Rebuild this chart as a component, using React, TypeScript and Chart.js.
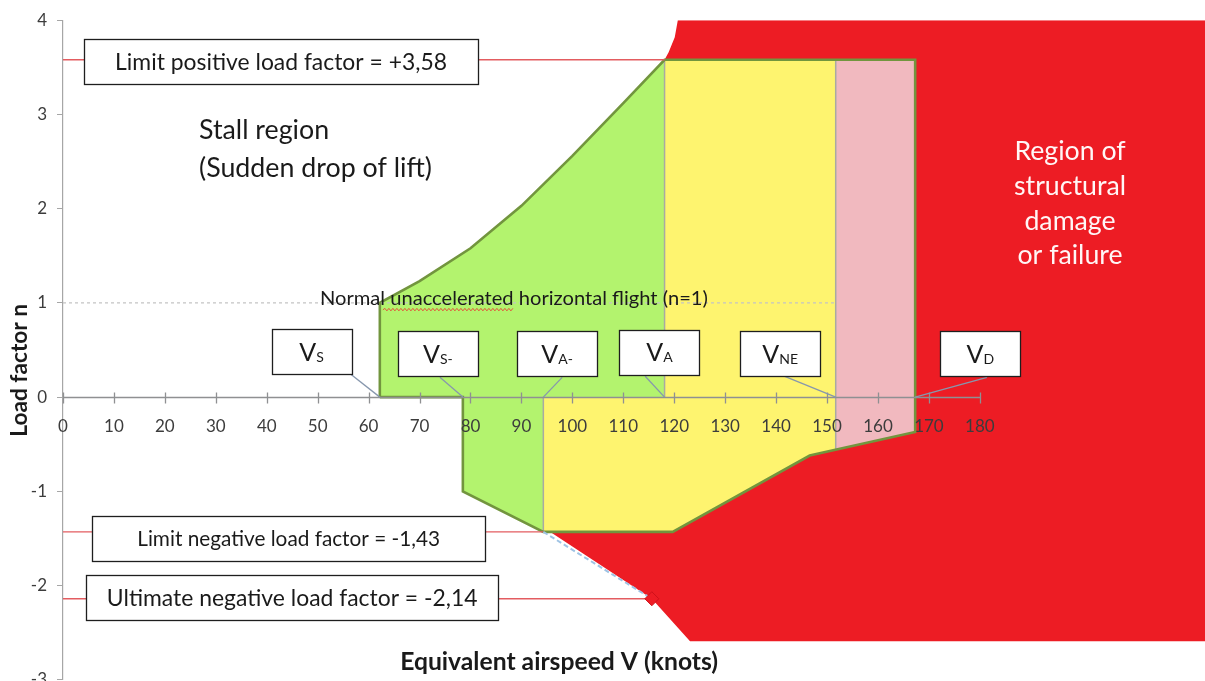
import React, { useEffect, useRef } from 'react';
import { Chart, registerables } from 'chart.js';

Chart.register(...registerables);

const FONT = 'Lato, "Open Sans", sans-serif';

// ---- tick labels ----
const xTicks = [0, 10, 20, 30, 40, 50, 60, 70, 80, 90, 100, 110, 120, 130, 140, 150, 160, 170, 180];
const yTicks = [-3, -2, -1, 0, 1, 2, 3, 4];

// ---- flight envelope (equivalent airspeed in knots, load factor n) ----
const envelopeSpeed = [62.2, 62.2, 70, 80, 90, 100, 110, 118.1, 167.3, 167.3, 146.6, 119.7, 94.3, 78.5, 78.5, 62.2];
const envelopeLoad = [0, 1.0, 1.23, 1.58, 2.03, 2.56, 3.12, 3.58, 3.58, -0.37, -0.62, -1.43, -1.43, -1.0, 0, 0];

// caution range (yellow)
const cautionSpeed = [94.3, 118.1, 118.1, 151.7, 151.7, 146.6, 119.7, 94.3];
const cautionLoad = [0, 0, 3.58, 3.58, -0.55, -0.62, -1.43, -1.43];

// never-exceed margin (pink)
const vneSpeed = [151.7, 167.3, 167.3, 151.7];
const vneLoad = [3.58, 3.58, -0.37, -0.55];

// region of structural damage or failure (red)
const damageSpeed = [118.1, 118.9, 120.1, 120.7, 230, 230, 123.1, 115.6, 95.6, 118.1];
const damageLoad = [3.58, 3.66, 3.82, 4.0, 4.0, -2.59, -2.59, -2.14, -1.43, 3.58];

// dividers between speed ranges
const vaDividerSpeed = [118.1, 118.1];
const vaDividerLoad = [0, 3.58];
const vaNegDividerSpeed = [94.3, 94.3];
const vaNegDividerLoad = [0, -1.43];
const vneDividerSpeed = [151.7, 151.7];
const vneDividerLoad = [-0.55, 3.58];

// reference load factor lines
const limitPositiveSpeed = [0, 118.1];
const limitPositiveLoad = [3.58, 3.58];
const limitNegativeSpeed = [0, 94.3];
const limitNegativeLoad = [-1.43, -1.43];
const ultimateNegativeSpeed = [0, 115.6];
const ultimateNegativeLoad = [-2.14, -2.14];
const normalFlightSpeed = [0, 151.7];
const normalFlightLoad = [1, 1];
const ultimateSlopeSpeed = [94.3, 115.6];
const ultimateSlopeLoad = [-1.43, -2.14];
const ultimatePointSpeed = [115.6];
const ultimatePointLoad = [-2.14];

// characteristic speeds
const speedLabelSubs = ['S', 'S-', 'A-', 'A', 'NE', 'D'];
const speedLabelSpeeds = [62.2, 78.5, 94.3, 118.1, 151.7, 167.3];

// ---- annotation layout (data coordinates) ----
const speedBoxes = [
  { cx: 48.8, cy: 0.479, ax: 56.5, ay: 0.242 },
  { cx: 73.6, cy: 0.458, ax: 74.0, ay: 0.21 },
  { cx: 97.0, cy: 0.458, ax: 98.0, ay: 0.21 },
  { cx: 117.1, cy: 0.474, ax: 114.3, ay: 0.221 },
  { cx: 140.8, cy: 0.458, ax: 141.7, ay: 0.221 },
  { cx: 180.1, cy: 0.458, ax: 181.4, ay: 0.21 },
];

const boxNotes = [
  { cx: 42.8, cy: 3.563, w: 394, h: 45, text: 'Limit positive load factor = +3,58', fit: 332 },
  { cx: 44.3, cy: -1.5, w: 393, h: 45, text: 'Limit negative load factor = -1,43', fit: 303 },
  { cx: 45.0, cy: -2.13, w: 412, h: 45, text: 'Ultimate negative load factor = -2,14', fit: 371 },
];

const RED = '#ed1c24';
const GREEN = '#b3f36e';
const YELLOW = '#fef46f';
const PINK = '#f1b9bf';
const OLIVE = '#72953e';
const DIVIDER = '#a9aaa2';
const REFLINE = '#e35c60';
const TEXT = '#1a1a1a';

function fitSize(ctx: CanvasRenderingContext2D, text: string, weight: string, target: number) {
  ctx.font = `${weight} 100px ${FONT}`;
  return (100 * target) / ctx.measureText(text).width;
}

const notesPlugin = {
  id: 'notes',
  afterDatasetsDraw(chart: any) {
    const ctx: CanvasRenderingContext2D = chart.ctx;
    const xs = chart.scales.x;
    const ys = chart.scales.y;
    const px = (v: number) => xs.getPixelForValue(v);
    const py = (n: number) => ys.getPixelForValue(n);
    ctx.save();

    // x axis line with crossing tick marks
    const y0 = Math.round(py(0)) + 0.5;
    ctx.strokeStyle = '#8f9092';
    ctx.lineWidth = 1.3;
    ctx.beginPath();
    ctx.moveTo(px(xTicks[0]), y0);
    ctx.lineTo(px(xTicks[xTicks.length - 1]), y0);
    xTicks.forEach((t) => {
      const X = Math.round(px(t)) + 0.5;
      ctx.moveTo(X, y0 - 5);
      ctx.lineTo(X, y0 + 6);
    });
    ctx.stroke();

    // connectors from speed labels
    ctx.strokeStyle = '#8797ad';
    ctx.lineWidth = 1.3;
    speedBoxes.forEach((b, i) => {
      ctx.beginPath();
      ctx.moveTo(px(b.ax), py(b.ay));
      ctx.lineTo(px(speedLabelSpeeds[i]), py(0));
      ctx.stroke();
    });

    const drawBox = (cx: number, cy: number, w: number, h: number) => {
      const l = Math.round(cx - w / 2) + 0.5;
      const t = Math.round(cy - h / 2) + 0.5;
      ctx.fillStyle = '#ffffff';
      ctx.fillRect(l, t, w, h);
      ctx.strokeStyle = '#1e1e1e';
      ctx.lineWidth = 1.3;
      ctx.strokeRect(l, t, w, h);
    };

    // load factor boxes
    boxNotes.forEach((b) => {
      const cx = px(b.cx);
      const cy = py(b.cy);
      drawBox(cx, cy, b.w, b.h);
      const size = fitSize(ctx, b.text, '400', b.fit);
      ctx.font = `400 ${size}px ${FONT}`;
      ctx.fillStyle = TEXT;
      ctx.textAlign = 'center';
      ctx.textBaseline = 'alphabetic';
      ctx.fillText(b.text, cx, cy + size * 0.36);
    });

    // speed label boxes
    speedBoxes.forEach((b, i) => {
      const cx = px(b.cx);
      const cy = py(b.cy);
      drawBox(cx, cy, 80, 45);
      const vSize = 25;
      const sSize = 14;
      ctx.font = `400 ${vSize}px ${FONT}`;
      const wv = ctx.measureText('V').width;
      ctx.font = `400 ${sSize}px ${FONT}`;
      const wsub = ctx.measureText(speedLabelSubs[i]).width;
      const start = cx - (wv + wsub) / 2;
      const base = cy + vSize * 0.36;
      ctx.fillStyle = TEXT;
      ctx.textAlign = 'left';
      ctx.textBaseline = 'alphabetic';
      ctx.font = `400 ${vSize}px ${FONT}`;
      ctx.fillText('V', start, base);
      ctx.font = `400 ${sSize}px ${FONT}`;
      ctx.fillText(speedLabelSubs[i], start + wv, base + 1);
    });

    // stall region text
    {
      const size = fitSize(ctx, '(Sudden drop of lift)', '400', 233);
      ctx.font = `400 ${size}px ${FONT}`;
      ctx.fillStyle = TEXT;
      ctx.textAlign = 'left';
      ctx.textBaseline = 'alphabetic';
      ctx.fillText('Stall region', px(26.7), py(2.737));
      ctx.fillText('(Sudden drop of lift)', px(26.7), py(2.337));
    }

    // damage region text
    {
      const size = fitSize(ctx, 'structural', '400', 112);
      ctx.font = `400 ${size}px ${FONT}`;
      ctx.fillStyle = '#fff6f6';
      ctx.textAlign = 'center';
      const lines = ['Region of', 'structural', 'damage', 'or failure'];
      const bases = [2.521, 2.147, 1.774, 1.411];
      lines.forEach((l, i) => ctx.fillText(l, px(197.7), py(bases[i])));
    }

    // normal flight text
    {
      const text = 'Normal unaccelerated horizontal flight (n=1)';
      const size = fitSize(ctx, text, '400', 388);
      ctx.font = `400 ${size}px ${FONT}`;
      ctx.fillStyle = TEXT;
      ctx.textAlign = 'left';
      ctx.fillText(text, px(50.45), py(0.979));
      // spell-check squiggle under "unaccelerated"
      const x1 = px(62.8);
      const x2 = px(88.7);
      const yy = py(0.926);
      ctx.strokeStyle = '#e2553a';
      ctx.lineWidth = 1;
      ctx.beginPath();
      let up = true;
      ctx.moveTo(x1, yy);
      for (let xx = x1 + 2; xx <= x2; xx += 2) {
        ctx.lineTo(xx, up ? yy - 1.5 : yy + 1);
        up = !up;
      }
      ctx.stroke();
    }

    // axis titles
    {
      const xt = 'Equivalent airspeed V (knots)';
      const size = fitSize(ctx, xt, '700', 318);
      ctx.font = `700 ${size}px ${FONT}`;
      ctx.fillStyle = TEXT;
      ctx.textAlign = 'center';
      ctx.fillText(xt, px(97.4), py(-2.9));

      const yt = 'Load factor n';
      const ysz = fitSize(ctx, yt, '700', 133);
      ctx.save();
      ctx.translate(px(-7.07), py(0.284));
      ctx.rotate(-Math.PI / 2);
      ctx.font = `700 ${ysz}px ${FONT}`;
      ctx.textAlign = 'center';
      ctx.fillText(yt, 0, 0);
      ctx.restore();
    }

    ctx.restore();
  },
};

const pts = (xs: number[], ys: number[]) => xs.map((x, i) => ({ x, y: ys[i] }));

export default function App() {
  const ref = useRef<HTMLCanvasElement>(null);

  useEffect(() => {
    const base = { pointRadius: 0, tension: 0 };
    const area = (label: string, xs: number[], ys: number[], color: string, order: number) => ({
      ...base,
      label,
      data: pts(xs, ys),
      fill: 'shape',
      backgroundColor: color,
      borderColor: 'rgba(0,0,0,0)',
      borderWidth: 0,
      order,
    });
    const line = (label: string, xs: number[], ys: number[], color: string, width: number, order: number, dash: number[] = []) => ({
      ...base,
      label,
      data: pts(xs, ys),
      fill: false,
      borderColor: color,
      borderWidth: width,
      borderDash: dash,
      order,
    });

    const datasets: any[] = [
      area('Structural damage', damageSpeed, damageLoad, RED, 20),
      area('Normal range', envelopeSpeed, envelopeLoad, GREEN, 19),
      area('Caution range', cautionSpeed, cautionLoad, YELLOW, 18),
      area('Never exceed margin', vneSpeed, vneLoad, PINK, 17),
      line('VA divider', vaDividerSpeed, vaDividerLoad, DIVIDER, 1.5, 16),
      line('VA- divider', vaNegDividerSpeed, vaNegDividerLoad, DIVIDER, 1.5, 16),
      line('VNE divider', vneDividerSpeed, vneDividerLoad, DIVIDER, 1.5, 16),
      line('Envelope', envelopeSpeed, envelopeLoad, OLIVE, 2.6, 15),
      line('n = 1', normalFlightSpeed, normalFlightLoad, '#c4c4c4', 1.2, 14, [3, 3]),
      line('Limit positive', limitPositiveSpeed, limitPositiveLoad, REFLINE, 1.4, 13),
      line('Limit negative', limitNegativeSpeed, limitNegativeLoad, REFLINE, 1.4, 13),
      line('Ultimate negative', ultimateNegativeSpeed, ultimateNegativeLoad, REFLINE, 1.4, 13),
      line('Ultimate slope', ultimateSlopeSpeed, ultimateSlopeLoad, '#9fc3e4', 2, 12, [5, 3]),
      {
        label: 'Ultimate point',
        data: pts(ultimatePointSpeed, ultimatePointLoad),
        showLine: false,
        borderColor: '#d0101a',
        backgroundColor: '#ee1c25',
        pointRadius: 7,
        pointStyle: 'rectRot',
        pointBackgroundColor: '#ee1c25',
        pointBorderColor: '#d0101a',
        pointBorderWidth: 1,
        order: 1,
      },
    ];

    const chart = new Chart(ref.current as HTMLCanvasElement, {
      type: 'line',
      data: { datasets },
      options: {
        animation: false,
        responsive: false,
        maintainAspectRatio: false,
        layout: { autoPadding: false, padding: { top: 18, bottom: 17, left: 0, right: 0 } },
        plugins: { legend: { display: false }, tooltip: { enabled: false } },
        scales: {
          x: {
            type: 'linear',
            min: 0,
            max: 224.2,
            position: { y: 0 } as any,
            afterBuildTicks: (s: any) => {
              s.ticks = xTicks.map((v) => ({ value: v }));
            },
            afterFit: (s: any) => {
              s.paddingLeft = 0;
              s.paddingRight = 0;
            },
            ticks: {
              z: 1,
              autoSkip: false,
              maxRotation: 0,
              padding: 13,
              color: '#3c3c3c',
              font: { family: FONT, size: 17 },
              callback: (v: any) => String(v),
            },
            grid: { display: true, drawOnChartArea: false, drawTicks: true, tickLength: 6, color: 'rgba(0,0,0,0)' },
            border: { display: false },
          },
          y: {
            type: 'linear',
            min: -3,
            max: 4,
            position: 'left',
            afterBuildTicks: (s: any) => {
              s.ticks = yTicks.map((v) => ({ value: v }));
            },
            afterFit: (s: any) => {
              s.width = 63;
            },
            ticks: {
              padding: 10,
              color: '#3c3c3c',
              font: { family: FONT, size: 17 },
              callback: (v: any) => String(v),
            },
            grid: { drawOnChartArea: false, drawTicks: true, tickLength: 6, color: '#a6a6a6' },
            border: { color: '#a6a6a6', width: 1.2 },
          },
        },
      } as any,
      plugins: [notesPlugin],
    });
    return () => chart.destroy();
  }, []);

  return (
    <div
      style={{
        position: 'fixed',
        left: 0,
        top: 0,
        width: 1205,
        height: 681,
        overflow: 'hidden',
        background: '#ffffff',
      }}
    >
      <canvas ref={ref} width={1205} height={700} style={{ display: 'block' }} />
    </div>
  );
}
